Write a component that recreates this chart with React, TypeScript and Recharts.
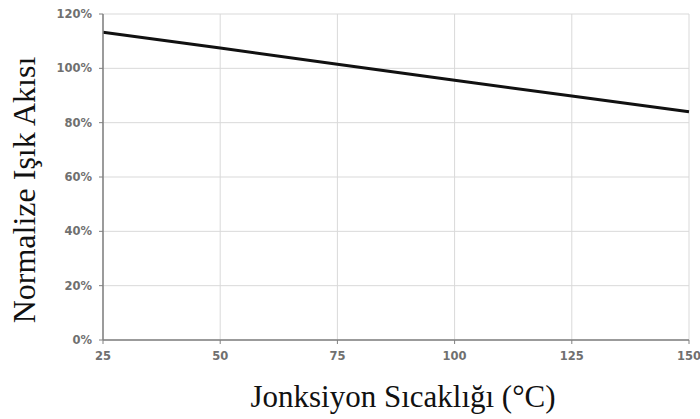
import React from 'react';
import { LineChart, Line, XAxis, YAxis, CartesianGrid, Label } from 'recharts';

const temperatures = [25, 50, 75, 100, 125, 150];
const fluxPercent = [113.3, 107.5, 101.5, 95.6, 89.8, 84.0];
const yTicks = [0, 20, 40, 60, 80, 100, 120];

const data = temperatures.map((t, i) => ({ t, flux: fluxPercent[i] }));

const tickStyle = { fontFamily: 'DejaVu Sans', fontSize: 11.5, fontWeight: 'bold', fill: '#707070' };
const titleFont = 'Liberation Serif';

const App: React.FC = () => {
  return (
    <div style={{ position: 'absolute', left: 0, top: 0, background: '#fff' }}>
      <LineChart width={700} height={419} data={data} margin={{ top: 14, right: 11, left: 0, bottom: 0 }}>
        <CartesianGrid stroke="#d9d9d9" strokeWidth={1} />
        <XAxis
          dataKey="t"
          type="number"
          domain={[25, 150]}
          ticks={temperatures}
          height={79}
          tick={tickStyle}
          tickSize={4}
          tickMargin={8}
          stroke="#808080"
          axisLine={{ stroke: '#808080', strokeWidth: 1.5 }}
        >
          <Label
            value="Jonksiyon Sıcaklığı (°C)"
            position="insideBottom"
            offset={12}
            dx={7}
            style={{ fontFamily: titleFont, fontSize: 31, fill: '#111' }}
          />
        </XAxis>
        <YAxis
          type="number"
          domain={[0, 120]}
          ticks={yTicks}
          width={103}
          tick={tickStyle}
          tickFormatter={(v: number) => `${v}%`}
          tickSize={4}
          tickMargin={7}
          stroke="#808080"
          axisLine={{ stroke: '#808080', strokeWidth: 1.5 }}
        >
          <Label
            value="Normalize Işık Akısı"
            angle={-90}
            position="insideLeft"
            offset={24}
            dy={13}
            style={{ fontFamily: titleFont, fontSize: 32, fill: '#111', textAnchor: 'middle' }}
          />
        </YAxis>
        <Line
          dataKey="flux"
          stroke="#111"
          strokeWidth={3}
          dot={false}
          isAnimationActive={false}
        />
      </LineChart>
    </div>
  );
};

export default App;
